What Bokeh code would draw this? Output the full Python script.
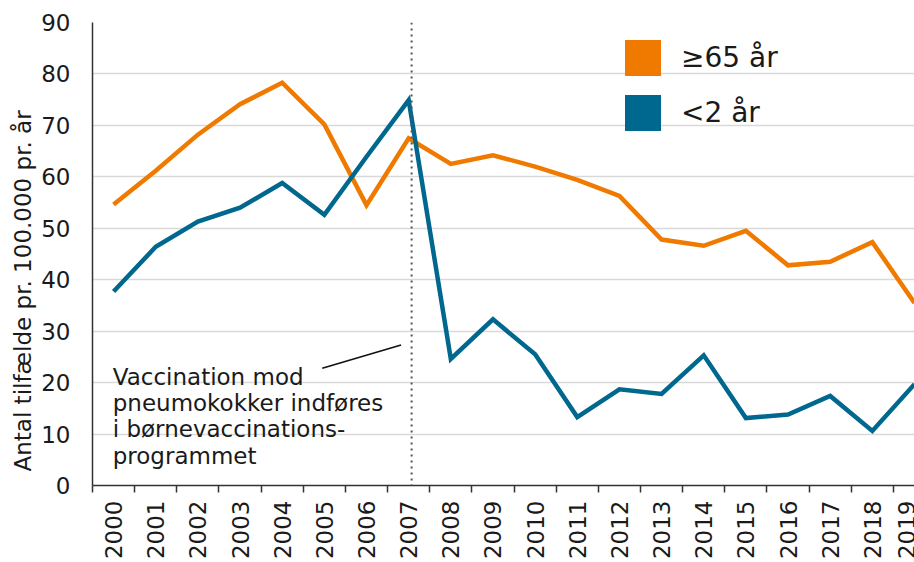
import math
from bokeh.plotting import figure
from bokeh.models import (Range1d, FixedTicker, Legend, LegendItem, Span, Title,
                          ColumnDataSource)
from bokeh.core.properties import value
from bokeh.embed import file_html
from bokeh.resources import INLINE

# ---- data ----
years = list(range(2000, 2020))
over65 = [54.6, 61.2, 68.2, 74.1, 78.3, 70.2, 54.5, 67.5, 62.5, 64.2,
          62.0, 59.4, 56.3, 47.8, 46.6, 49.5, 42.8, 43.5, 47.3, 35.5]
under2 = [37.7, 46.4, 51.3, 54.0, 58.8, 52.6, 63.9, 74.9, 24.6, 32.3,
          25.5, 13.3, 18.7, 17.8, 25.3, 13.1, 13.8, 17.4, 10.6, 19.7]
series_labels = ["\u226565 \u00e5r", "<2 \u00e5r"]
y_ticks = list(range(0, 100, 10))
y_title = "Antal tilf\u00e6lde pr. 100.000 pr. \u00e5r"
vacc_year = 2007
annot_lines = ["Vaccination mod", "pneumokokker indf\u00f8res",
               "i b\u00f8rnevaccinations-", "programmet"]

ORANGE = "#F07A00"
BLUE = "#00688E"
FONT = "DejaVu Sans"
TXT = "#1a1a1a"

p = figure(width=914, height=562, output_backend="svg", toolbar_location=None,
           x_range=Range1d(1999.5, 2019.0), y_range=Range1d(0, 90),
           min_border_left=92, min_border_right=0, min_border_top=22,
           min_border_bottom=75)
p.outline_line_color = None
p.background_fill_color = "white"

# grid
p.xgrid.grid_line_color = None
p.ygrid.grid_line_color = "#d9d9d9"
p.ygrid.grid_line_width = 1.5

# y axis
p.yaxis.ticker = FixedTicker(ticks=y_ticks)
p.yaxis.major_tick_out = 0
p.yaxis.major_tick_in = 0
p.yaxis.minor_tick_out = 0
p.yaxis.minor_tick_in = 0
p.yaxis.major_label_standoff = 22
p.yaxis.axis_line_color = "#333333"
p.yaxis.axis_line_width = 1.5
p.yaxis.major_label_text_font = FONT
p.yaxis.major_label_text_font_size = "23px"
p.yaxis.major_label_text_color = TXT

# y title as a left-side Title (starts a little above the frame bottom)
p.add_layout(Title(text=y_title, align="left", offset=14, standoff=6,
                   text_font=FONT, text_font_size="23px",
                   text_font_style="normal", text_color=TXT), "left")

# x axis
boundaries = [y - 0.5 for y in years] + [years[-1] + 0.5]
p.xaxis.ticker = FixedTicker(ticks=years, minor_ticks=boundaries)
p.xaxis.major_tick_out = 0
p.xaxis.major_tick_in = 0
p.xaxis.major_tick_line_color = None
p.xaxis.minor_tick_out = 7
p.xaxis.minor_tick_in = 0
p.xaxis.minor_tick_line_color = "#333333"
p.xaxis.minor_tick_line_width = 1.5
p.xaxis.axis_line_color = "#333333"
p.xaxis.axis_line_width = 1.5
p.xaxis.major_label_orientation = math.pi / 2
p.xaxis.major_label_standoff = 8
p.xaxis.major_label_text_font = FONT
p.xaxis.major_label_text_font_size = "23px"
p.xaxis.major_label_text_color = TXT

# vaccination line
p.add_layout(Span(location=vacc_year + 0.07, dimension="height",
                  line_color="#555555", line_width=2, line_dash="2 4"))

# series
src = ColumnDataSource(dict(year=years, over65=over65, under2=under2))
p.line("year", "over65", source=src, line_color=ORANGE, line_width=4.5,
       line_join="miter")
p.line("year", "under2", source=src, line_color=BLUE, line_width=4.5,
       line_join="miter")

# legend (square swatches; renderers hold a single NaN so nothing is drawn)
nan = float("nan")
sw1 = p.quad(left=[nan], right=[nan], top=[nan], bottom=[nan],
             fill_color=ORANGE, line_color=None)
sw2 = p.quad(left=[nan], right=[nan], top=[nan], bottom=[nan],
             fill_color=BLUE, line_color=None)
legend = Legend(items=[LegendItem(label=series_labels[0], renderers=[sw1]),
                       LegendItem(label=series_labels[1], renderers=[sw2])],
                location=(528, 350), orientation="vertical",
                glyph_width=45, glyph_height=45, label_height=45,
                spacing=10, padding=0, margin=0, label_standoff=16,
                border_line_color=None, background_fill_alpha=0,
                label_text_font=FONT, label_text_font_size="28px",
                label_text_color=TXT, label_text_baseline="middle")
p.add_layout(legend, "center")

# annotation text
ann_y = [21.1, 16.0, 11.0, 5.8]
p.text(x=[1999.98] * 4, y=ann_y, text=annot_lines, text_font=value(FONT),
       text_font_size="23px", text_color=TXT, text_baseline="alphabetic",
       text_align="left")
p.segment(x0=[2004.95], y0=[22.8], x1=[2006.82], y1=[27.3],
          line_color="#111111", line_width=1.6)

open("out.html", "w").write(file_html(p, INLINE))
